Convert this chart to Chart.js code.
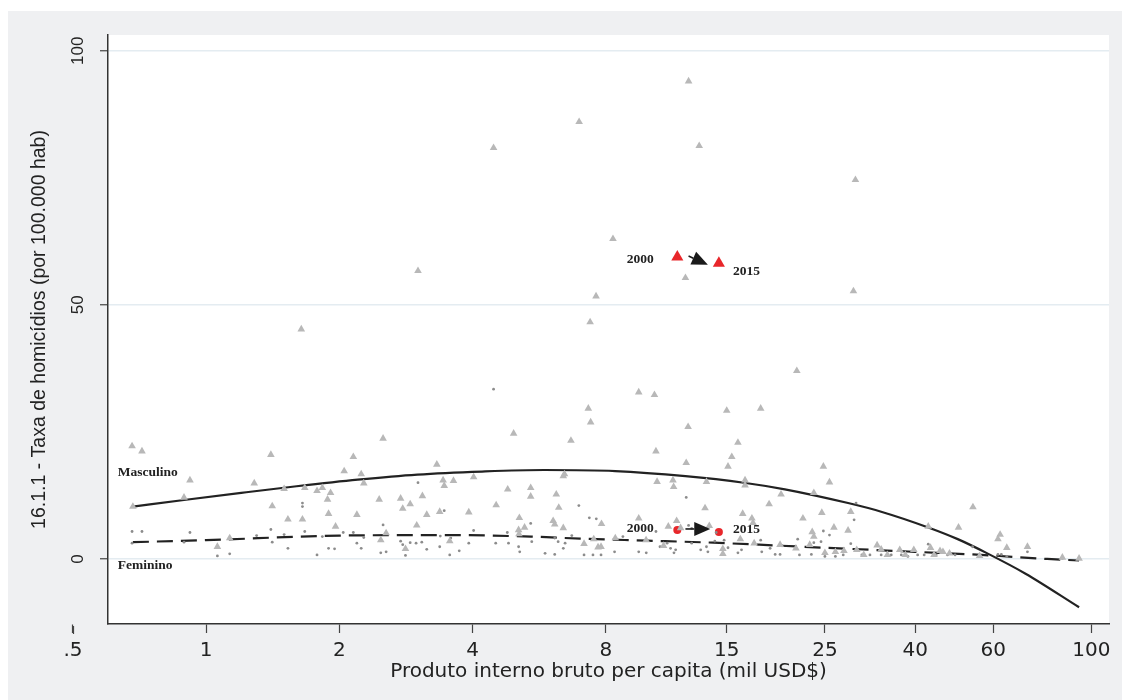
<!DOCTYPE html>
<html><head><meta charset="utf-8">
<script src="https://cdn.jsdelivr.net/npm/chart.js@4.4.1/dist/chart.umd.min.js"></script>
<style>
html,body{margin:0;padding:0;background:#fff;width:1122px;height:700px;overflow:hidden}
#wrap{position:absolute;left:8px;top:11px;width:1114px;height:689px}
</style></head><body>
<div id="wrap"><canvas id="c" width="1114" height="689"></canvas></div>
<script>
// ---- tick labels ----
const xTicks = [0.5, 1, 2, 4, 8, 15, 25, 40, 60, 100];
const yTicks = [0, 50, 100];

// ---- Masculino (triangles) ----
const maleX = [4.46,6.96,12.3,13.0,29.3,8.3,3.01,12.1,7.6,29.0,7.37,1.64,21.6,
0.68,0.716,0.683,0.919,0.891,1.06,1.13,1.40,1.284,1.41,1.50,1.53,1.65,1.67,1.78,1.83,1.91,1.88,1.89,1.96,2.05,2.15,2.24,2.27,2.19,2.51,2.46,2.55,2.48,2.75,2.78,2.89,3.08,2.99,3.15,3.32,3.43,3.45,3.37,3.55,2.82,
3.62,4.02,3.92,4.52,4.80,4.95,5.10,5.24,5.08,5.09,5.41,5.41,6.18,6.26,6.41,6.45,6.08,6.13,6.41,6.67,7.30,7.39,7.14,7.51,7.82,7.68,7.80,8.40,9.49,10.3,10.38,9.49,9.86,10.44,10.8,11.07,11.34,11.38,11.56,12.15,12.27,11.8,13.4,13.5,13.7,14.7,14.7,15.0,15.9,15.4,15.1,17.9,16.5,16.5,16.3,16.1,17.1,17.2,17.3,18.7,19.9,19.8,
24.8,25.6,23.6,22.3,24.6,23.4,23.6,26.2,28.2,28.6,21.5,23.1,25.0,26.4,27.6,29.5,30.6,32.8,33.5,34.6,36.9,38.0,39.7,42.8,43.3,44.1,45.5,46.2,47.8,50.1,54.0,55.9,61.5,62.2,64.4,71.7,86.0,93.8];
const maleY = [80.9,86.0,94.0,81.3,74.6,63.0,56.7,55.3,51.7,52.7,46.6,45.2,37.0,
22.2,21.2,10.3,15.5,12.1,2.4,4.1,20.5,14.9,10.4,13.8,7.8,7.8,14.0,13.4,14.0,13.0,11.7,8.9,6.4,17.3,20.1,16.7,14.9,8.7,23.7,11.7,5.1,3.7,11.9,9.9,10.8,12.4,6.6,8.7,18.6,15.5,14.4,9.3,3.5,2.0,
15.4,16.1,9.2,10.6,13.7,24.7,8.1,6.2,5.7,4.9,14.0,12.3,12.7,10.1,16.3,16.7,7.5,6.8,6.1,23.3,29.6,26.9,3.0,3.9,6.9,2.3,2.4,4.1,32.8,32.3,21.2,8.0,3.7,15.2,2.6,6.4,15.5,14.2,7.5,18.9,26.0,6.1,10.0,15.2,6.5,2.0,1.0,29.2,22.9,20.1,18.2,29.6,15.5,14.5,8.9,3.9,8.0,7.1,3.1,10.8,12.7,2.8,
18.2,15.1,13.0,8.0,9.1,5.3,4.4,6.2,5.6,9.3,2.1,2.8,1.2,1.4,1.6,1.8,0.8,2.7,1.9,0.8,1.8,0.8,1.8,6.4,2.2,0.8,1.6,1.4,1.1,6.2,10.2,0.6,3.9,4.8,2.2,2.4,0.3,0.1];

// ---- Feminino (dots) ----
const femX = [0.68,0.716,0.68,0.919,0.891,1.06,1.13,1.40,1.41,1.30,1.50,1.53,1.65,1.65,1.67,1.78,1.83,1.89,1.95,2.04,2.19,2.24,2.15,2.27,2.51,2.48,2.55,2.75,2.78,2.89,2.98,3.07,2.82,3.01,3.15,3.37,3.45,3.38,3.55,
4.46,3.57,3.73,3.92,4.02,4.51,4.79,4.82,5.08,5.11,5.41,5.44,5.83,6.13,6.24,6.41,6.47,6.13,6.70,6.95,7.14,7.34,7.61,7.48,7.80,8.37,8.74,9.49,9.87,10.38,10.6,11.0,11.2,11.4,11.5,12.15,12.3,12.5,12.5,13.1,13.5,13.6,14.1,14.2,14.8,15.1,15.9,16.2,17.9,18.0,18.8,19.3,19.8,
20.0,21.7,21.9,23.3,23.6,24.8,25.6,24.5,25.0,26.4,27.5,28.6,29.1,29.4,30.3,31.6,33.5,35.3,37.2,38.5,40.5,42.8,41.9,44.6,47.3,49.2,53.9,55.9,61.5,62.6,64.4,71.7,86.0];
const femY = [5.4,5.4,3.1,5.2,3.3,0.6,1.0,5.8,3.3,4.6,4.8,2.1,11.0,10.3,5.4,0.8,4.4,2.1,2.0,5.2,3.1,2.1,5.2,4.2,6.7,1.2,1.4,3.5,2.8,3.2,3.1,3.3,0.7,15.0,1.9,2.4,9.5,4.5,0.8,
33.4,4.1,1.6,3.1,5.6,3.1,5.2,3.1,2.4,1.4,7.0,3.4,1.1,4.1,3.4,2.1,3.1,0.9,4.6,10.5,0.8,8.1,7.9,0.8,0.8,1.4,4.4,1.4,1.2,5.4,2.4,3.1,2.1,1.2,1.8,12.1,6.6,6.0,3.1,1.8,2.4,1.4,3.5,5.2,3.7,2.2,1.2,1.8,3.7,1.4,2.1,0.9,0.9,
2.6,3.9,0.8,0.9,3.2,5.5,4.7,3.4,0.5,0.5,0.8,3.0,7.7,11.0,0.8,0.8,0.8,0.8,0.8,0.5,0.8,2.9,0.8,0.8,0.8,0.8,2.4,0.5,0.9,0.9,0.5,1.4,0.1];

// ---- fitted curves ----
const fitMaleX = [0.683,0.891,1.2,1.6,2.2,3.0,4.2,5.8,8.4,12.1,16.4,20.3,28.2,33.5,42.8,49.9,58.2,71,93.8];
const fitMaleY = [10.3,11.6,13.0,14.3,15.6,16.6,17.2,17.5,17.3,16.3,15.0,13.7,11.0,9.3,6.2,3.9,1.1,-2.9,-9.5];
const fitFemX = [0.683,1.0,2.0,3.46,5.42,7.0,9.9,14.0,19.9,28.2,39.9,56.4,79.5,93.8];
const fitFemY = [3.3,3.7,4.6,4.7,4.4,4.0,3.6,3.2,2.6,2.0,1.4,0.8,0.0,-0.3];

// ---- highlighted country 2000 -> 2015 ----
const highMaleX = [11.6, 14.4];
const highMaleY = [59.4, 58.2];
const highFemX = [11.6, 14.4];
const highFemY = [5.7, 5.3];
const arrowsX0 = [12.3, 12.1], arrowsY0 = [59.6, 5.9];
const arrowsX1 = [13.6, 13.77], arrowsY1 = [57.9, 5.9];

// ---- text labels ----
const labelText = ['Masculino', 'Feminino', '2000', '2015', '2000', '2015'];
const labelX = [0.631, 0.631, 8.92, 15.5, 8.92, 15.5];
const labelY = [16.3, -1.9, 58.2, 55.9, 5.3, 5.1];

const pts = (xs, ys) => xs.map((x, i) => ({x, y: ys[i]}));

const decor = {
  id: 'decor',
  beforeDraw(chart) {
    const {ctx, chartArea: a} = chart;
    ctx.save();
    ctx.fillStyle = '#eff0f2';
    ctx.fillRect(0, 0, chart.width, chart.height);
    ctx.fillStyle = '#ffffff';
    ctx.fillRect(a.left, a.top, a.right - a.left, a.bottom - a.top);
    ctx.restore();
  },
  afterDraw(chart) {
    const {ctx, chartArea: a} = chart;
    const xs = chart.scales.x, ys = chart.scales.y;
    ctx.save();
    // tick mark for .5 that lies outside the plot region
    const px = Math.round(xs.getPixelForValue(xTicks[0])) + 0.5;
    ctx.strokeStyle = '#444';
    ctx.lineWidth = 1.2;
    ctx.beginPath(); ctx.moveTo(px, a.bottom + 2); ctx.lineTo(px, a.bottom + 10); ctx.stroke();
    // arrows
    ctx.strokeStyle = '#1a1a1a'; ctx.fillStyle = '#1a1a1a'; ctx.lineWidth = 1.6;
    for (let i = 0; i < arrowsX0.length; i++) {
      const x0 = xs.getPixelForValue(arrowsX0[i]), y0 = ys.getPixelForValue(arrowsY0[i]);
      const x1 = xs.getPixelForValue(arrowsX1[i]), y1 = ys.getPixelForValue(arrowsY1[i]);
      const ang = Math.atan2(y1 - y0, x1 - x0), hl = 16, hw = 14;
      const bx = x1 - hl * Math.cos(ang), by = y1 - hl * Math.sin(ang);
      ctx.beginPath(); ctx.moveTo(x0, y0); ctx.lineTo(bx, by); ctx.stroke();
      ctx.beginPath(); ctx.moveTo(x1, y1);
      ctx.lineTo(bx + hw / 2 * Math.sin(ang), by - hw / 2 * Math.cos(ang));
      ctx.lineTo(bx - hw / 2 * Math.sin(ang), by + hw / 2 * Math.cos(ang));
      ctx.closePath(); ctx.fill();
    }
    // labels
    ctx.font = 'bold 13.5px "Liberation Serif", serif';
    ctx.fillStyle = '#222';
    ctx.textAlign = 'left'; ctx.textBaseline = 'alphabetic';
    for (let i = 0; i < labelText.length; i++) {
      ctx.fillText(labelText[i], xs.getPixelForValue(labelX[i]), ys.getPixelForValue(labelY[i]));
    }
    ctx.restore();
  }
};

new Chart(document.getElementById('c'), {
  type: 'scatter',
  data: {
    datasets: [
      {label: 'Masculino', data: pts(maleX, maleY), pointStyle: 'triangle', pointRadius: 4.4,
       backgroundColor: '#b8b8b8', borderColor: '#b8b8b8', borderWidth: 0},
      {label: 'Feminino', data: pts(femX, femY), pointStyle: 'circle', pointRadius: 1.4,
       backgroundColor: '#8c8c8c', borderColor: '#8c8c8c', borderWidth: 0},
      {type: 'line', label: 'fit M', data: pts(fitMaleX, fitMaleY), borderColor: '#222', borderWidth: 2.2,
       pointRadius: 0, fill: false, cubicInterpolationMode: 'monotone'},
      {type: 'line', label: 'fit F', data: pts(fitFemX, fitFemY), borderColor: '#222', borderWidth: 2.2,
       borderDash: [16, 8], pointRadius: 0, fill: false, cubicInterpolationMode: 'monotone'},
      {label: 'M hi', data: pts(highMaleX, highMaleY), pointStyle: 'triangle', pointRadius: 7,
       backgroundColor: '#e8262a', borderColor: '#e8262a', borderWidth: 0},
      {label: 'F hi', data: pts(highFemX, highFemY), pointStyle: 'circle', pointRadius: 4,
       backgroundColor: '#e8262a', borderColor: '#e8262a', borderWidth: 0}
    ]
  },
  options: {
    responsive: false,
    animation: false,
    layout: {padding: {left: 0, top: 24, right: 13, bottom: 0}},
    plugins: {legend: {display: false}, tooltip: {enabled: false}},
    scales: {
      x: {
        type: 'logarithmic', min: 0.618, max: 109.6,
        afterBuildTicks: s => { s.ticks = xTicks.map(v => ({value: v})); },
        afterFit: s => { s.height = 76; },
        ticks: {autoSkip: false, maxRotation: 0, minRotation: 0, padding: 6, color: '#222',
          font: {family: '"DejaVu Sans", sans-serif', size: 20},
          callback: v => (v < 1 ? String(v).replace(/^0/, '') : String(v))},
        grid: {drawOnChartArea: false, drawTicks: true, tickLength: 9, tickColor: '#444', tickWidth: 1.2},
        border: {display: true, color: '#333', width: 1.5},
        title: {display: true, text: 'Produto interno bruto per capita (mil USD$)', color: '#222',
          font: {family: '"DejaVu Sans", sans-serif', size: 20}, padding: {top: 0, bottom: 16}}
      },
      y: {
        type: 'linear', min: -12.8, max: 103.1,
        afterBuildTicks: s => { s.ticks = yTicks.map(v => ({value: v})); },
        afterFit: s => { s.width = 100; },
        ticks: {minRotation: 90, maxRotation: 90, crossAlign: 'center', padding: 8, color: '#222',
          font: {family: '"Liberation Sans", Arial, sans-serif', size: 17}},
        grid: {color: '#e4ecf1', lineWidth: 1.5, drawTicks: true, tickLength: 8, tickColor: '#444', tickWidth: 1.2},
        border: {display: true, color: '#333', width: 1.5},
        title: {display: true, text: '16.1.1 - Taxa de homicídios (por 100.000 hab)', color: '#222',
          font: {family: '"Liberation Sans", Arial, sans-serif', size: 19.5}, padding: {top: 20, bottom: 0}}
      }
    }
  },
  plugins: [decor]
});
</script>
</body></html>
